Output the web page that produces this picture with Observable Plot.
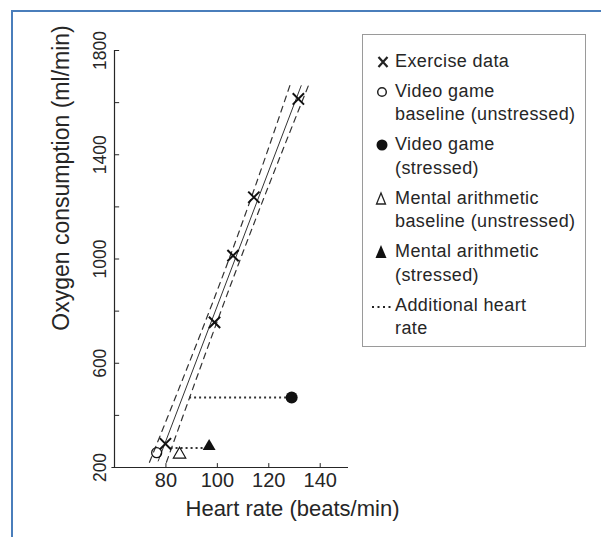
<!DOCTYPE html>
<html>
<head>
<meta charset="utf-8">
<script src="https://cdn.jsdelivr.net/npm/d3@7"></script>
<script src="https://cdn.jsdelivr.net/npm/@observablehq/plot@0.6"></script>
<style>
  body { margin: 0; background: #fff; }
  #wrap { position: relative; width: 601px; height: 537px; overflow: hidden; font-family: "Liberation Sans", Arial, sans-serif; background:#fff; }
  #chart { position: absolute; left: 0; top: 0; }
  #frame { position: absolute; left: 11px; top: 10px; width: 620px; height: 560px; border-left: 2px solid #4a7ebb; border-top: 2px solid #4a7ebb; pointer-events: none; }
  #legend { position: absolute; left: 362px; top: 34px; width: 222px; height: 311px; border: 1.5px solid #9a9a9a; color: #262626; font-size: 18px; letter-spacing: 0.4px; }
  #legend .entry { position: relative; padding-left: 32px; }
  #legend .line { height: 23.5px; line-height: 23.5px; white-space: nowrap; }
  #legend svg { position: absolute; left: 9px; top: 0; }
</style>
</head>
<body>
<div id="wrap">
  <div id="chart"></div>
  <div id="legend"></div>
  <div id="frame"></div>
</div>
<script>
// ---- data ----
const exerciseHR = [79.8, 98.9, 106.1, 114.2, 131.5];
const exerciseO2 = [291, 757, 1013, 1237, 1614];

const fitHR = [77.0, 132.6];
const fitO2 = [225, 1665];
const bandLeftHR = [73.6, 103.8, 128.7];
const bandLeftO2 = [220, 980, 1680];
const bandRightHR = [80.2, 108.2, 136.0];
const bandRightO2 = [220, 980, 1680];

const videoBaseHR = [76.4];
const videoBaseO2 = [257];
const videoStressHR = [128.9];
const videoStressO2 = [469];
const arithBaseHR = [85.3];
const arithBaseO2 = [250];
const arithStressHR = [96.8];
const arithStressO2 = [281];

const extraStartHR = [89.2, 82.0];
const extraEndHR = [128.0, 96.0];
const extraO2 = [469, 275];

const xTicks = [80, 100, 120, 140];
const yLabelTicks = [200, 600, 1000, 1400, 1800];
const yAllTicks = [200, 400, 600, 800, 1000, 1200, 1400, 1600, 1800];

const xTitle = "Heart rate (beats/min)";
const yTitle = "Oxygen consumption (ml/min)";

const legendLabels = [
  ["Exercise data"],
  ["Video game", "baseline (unstressed)"],
  ["Video game", "(stressed)"],
  ["Mental arithmetic", "baseline (unstressed)"],
  ["Mental arithmetic", "(stressed)"],
  ["Additional heart", "rate"]
];
const legendSymbols = ["times", "circleOpen", "circle", "triangleOpen", "triangle", "dotted"];

// ---- build tables ----
const zip = (xs, ys) => xs.map((x, i) => ({x, y: ys[i]}));
const exercise = zip(exerciseHR, exerciseO2);
const fit = zip(fitHR, fitO2);
const bandL = zip(bandLeftHR, bandLeftO2);
const bandR = zip(bandRightHR, bandRightO2);
const extra = extraO2.map((y, i) => ({y, x1: extraStartHR[i], x2: extraEndHR[i]}));

const ink = "#262626";

const chart = Plot.plot({
  width: 601,
  height: 537,
  marginLeft: 114,
  marginRight: 253,
  marginTop: 50,
  marginBottom: 70,
  x: {domain: [60, 151], axis: null},
  y: {domain: [200, 1800], axis: null},
  style: {background: "transparent", fontFamily: "'Liberation Sans', Arial, sans-serif", color: ink, overflow: "visible"},
  marks: [
    // axes lines
    Plot.ruleX([60], {y1: 200, y2: 1800, stroke: ink, strokeWidth: 1.2}),
    Plot.ruleY([200], {x1: 59, x2: 151, stroke: ink, strokeWidth: 1.2}),
    // inward ticks
    Plot.ruleY(yAllTicks, {y: d => d, x1: 60, x2: 62, stroke: ink}),
    Plot.ruleX(xTicks, {x: d => d, y1: 200, y2: 215, stroke: ink}),
    // tick labels
    Plot.axisY({ticks: yLabelTicks, tickSize: 0, tickPadding: 9, rotate: -90, textAnchor: "middle", lineAnchor: "bottom", fontSize: 17.5, label: null, tickFormat: d => String(d)}),
    Plot.axisX({ticks: xTicks, tickSize: 0, tickPadding: 5, fontSize: 20, label: null, tickFormat: d => String(d)}),
    // titles
    Plot.text([xTitle], {frameAnchor: "bottom", dx: 61, dy: 41, fontSize: 22, lineAnchor: "middle", textAnchor: "middle", fill: ink}),
    Plot.text([yTitle], {frameAnchor: "left", rotate: -90, dx: -53, dy: -81, fontSize: 23, lineAnchor: "middle", textAnchor: "middle", fill: ink}),
    // regression and band
    Plot.line(bandL, {x: "x", y: "y", stroke: "#333", strokeWidth: 1.2, strokeDasharray: "6,5", curve: "natural"}),
    Plot.line(bandR, {x: "x", y: "y", stroke: "#333", strokeWidth: 1.2, strokeDasharray: "6,5", curve: "natural"}),
    Plot.line(fit, {x: "x", y: "y", stroke: "#333", strokeWidth: 1}),
    // additional heart rate
    Plot.ruleY(extra, {y: "y", x1: "x1", x2: "x2", stroke: "#333", strokeWidth: 2, strokeDasharray: "2,3"}),
    // points
    Plot.dot(exercise, {x: "x", y: "y", symbol: "times", r: 5.2, stroke: "#111", strokeWidth: 2}),
    Plot.dot(zip(videoBaseHR, videoBaseO2), {x: "x", y: "y", symbol: "circle", r: 5, stroke: "#111", strokeWidth: 1.3, fill: "none"}),
    Plot.dot(zip(videoStressHR, videoStressO2), {x: "x", y: "y", symbol: "circle", r: 6, fill: "#111", stroke: "none"}),
    Plot.dot(zip(arithBaseHR, arithBaseO2), {x: "x", y: "y", symbol: "triangle", r: 4.6, stroke: "#111", strokeWidth: 1.2, fill: "none"}),
    Plot.dot(zip(arithStressHR, arithStressO2), {x: "x", y: "y", symbol: "triangle", r: 4.8, fill: "#111", stroke: "none"})
  ]
});
document.getElementById("chart").appendChild(chart);

// ---- legend ----
const symbolSvg = {
  times: '<svg width="22" height="24"><path d="M6.5 7 L15.5 17 M15.5 7 L6.5 17" stroke="#222" stroke-width="2.2"/></svg>',
  circleOpen: '<svg width="22" height="24"><circle cx="10" cy="12" r="4.3" fill="none" stroke="#222" stroke-width="1.5"/></svg>',
  circle: '<svg width="22" height="24"><circle cx="10" cy="12" r="5.5" fill="#111"/></svg>',
  triangleOpen: '<svg width="22" height="24"><polygon points="9,6 4.5,17 13.5,17" fill="none" stroke="#222" stroke-width="1.3"/></svg>',
  triangle: '<svg width="22" height="24"><polygon points="9,5 3.5,18 14.5,18" fill="#111"/></svg>',
  dotted: '<svg width="22" height="24"><line x1="0" y1="13" x2="20" y2="13" stroke="#222" stroke-width="2" stroke-dasharray="2,3.5"/></svg>'
};
const legend = document.getElementById("legend");
legendLabels.forEach((lines, i) => {
  const e = document.createElement("div");
  e.className = "entry";
  e.style.marginTop = i === 0 ? "14.5px" : "6.5px";
  e.innerHTML = symbolSvg[legendSymbols[i]] + lines.map(t => `<div class="line">${t}</div>`).join("");
  legend.appendChild(e);
});
</script>
</body>
</html>
